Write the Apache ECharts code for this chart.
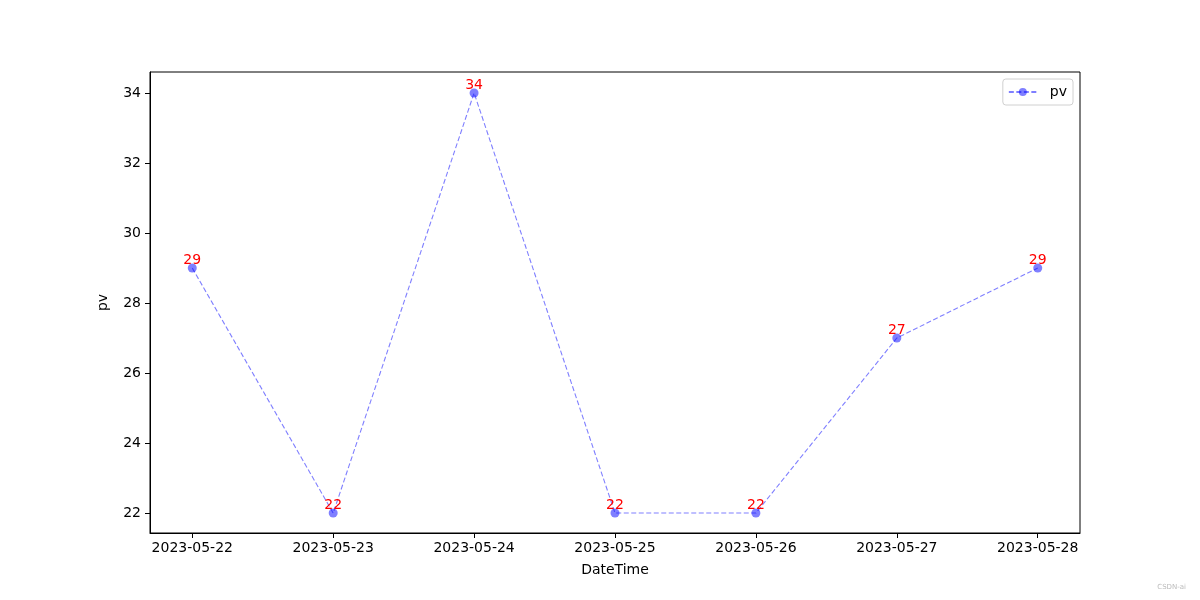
<!DOCTYPE html>
<html>
<head>
<meta charset="utf-8">
<script src="https://cdn.jsdelivr.net/npm/echarts@6/dist/echarts.min.js"></script>
<style>html,body{margin:0;padding:0;background:#fff;}#c{width:1200px;height:600px;}</style>
</head>
<body>
<div id="c"></div>
<script>
const categories = ['2023-05-22','2023-05-23','2023-05-24','2023-05-25','2023-05-26','2023-05-27','2023-05-28'];
const pvValues = [29, 22, 34, 22, 22, 27, 29];
const yTicks = [22, 24, 26, 28, 30, 32, 34];

const chart = echarts.init(document.getElementById('c'), null, {renderer: 'canvas'});
const font = 'DejaVu Sans';
const blue = 'rgba(0,0,255,0.5)';
const option = {
  animation: false,
  backgroundColor: '#fff',
  textStyle: {fontFamily: font},
  grid: {left: 150, right: 120, top: 72, bottom: 67, show: true, borderColor: '#000', borderWidth: 1, containLabel: false},
  legend: {
    right: 127, top: 79, orient: 'vertical',
    data: [{name: 'pv', itemStyle: {color: blue}}],
    itemWidth: 28, itemHeight: 10,
    padding: [6, 6, 6, 5],
    borderColor: '#d0d0d0', borderWidth: 1, borderRadius: 3,
    textStyle: {fontFamily: font, fontSize: 14, color: '#000', padding: [0, 0, 0, 8]},
    itemGap: 10
  },
  xAxis: {
    type: 'value', min: -0.3, max: 6.3,
    name: 'DateTime', nameLocation: 'middle', nameGap: 30,
    nameTextStyle: {fontFamily: font, fontSize: 14, color: '#000'},
    axisLine: {show: true, onZero: false, lineStyle: {color: '#000', width: 1}},
    axisTick: {show: true, length: 5, lineStyle: {color: '#000'}, customValues: categories.map((c, i) => i)},
    axisLabel: {show: true, margin: 8, fontFamily: font, fontSize: 14, color: '#000',
      customValues: categories.map((c, i) => i),
      formatter: v => categories[Math.round(v)] || ''},
    splitLine: {show: false}
  },
  yAxis: {
    type: 'value', min: 21.43, max: 34.6,
    name: 'pv', nameLocation: 'middle', nameGap: 40, nameRotate: 90,
    nameTextStyle: {fontFamily: font, fontSize: 14, color: '#000'},
    axisLine: {show: true, onZero: false, lineStyle: {color: '#000', width: 1}},
    axisTick: {show: true, length: 5, lineStyle: {color: '#000'}, customValues: yTicks},
    axisLabel: {show: true, margin: 9, fontFamily: font, fontSize: 14, color: '#000', customValues: yTicks},
    splitLine: {show: false}
  },
  series: [{
    name: 'pv', type: 'line',
    data: pvValues.map((v, i) => [i, v]),
    symbol: 'circle', symbolSize: 9,
    itemStyle: {color: blue, borderWidth: 0},
    lineStyle: {color: blue, width: 1.1, type: [5, 2.5]},
    label: {show: true, position: 'top', distance: -4, color: '#ff0000', fontFamily: font, fontSize: 14,
      formatter: p => String(p.value[1])},
    emphasis: {disabled: true}
  }],
  graphic: [{
    type: 'text', right: 14, top: 584,
    style: {text: 'CSDN-ai', fontSize: 7, fill: '#bbbbbb', fontFamily: font}
  }]
};
chart.setOption(option);
</script>
</body>
</html>
